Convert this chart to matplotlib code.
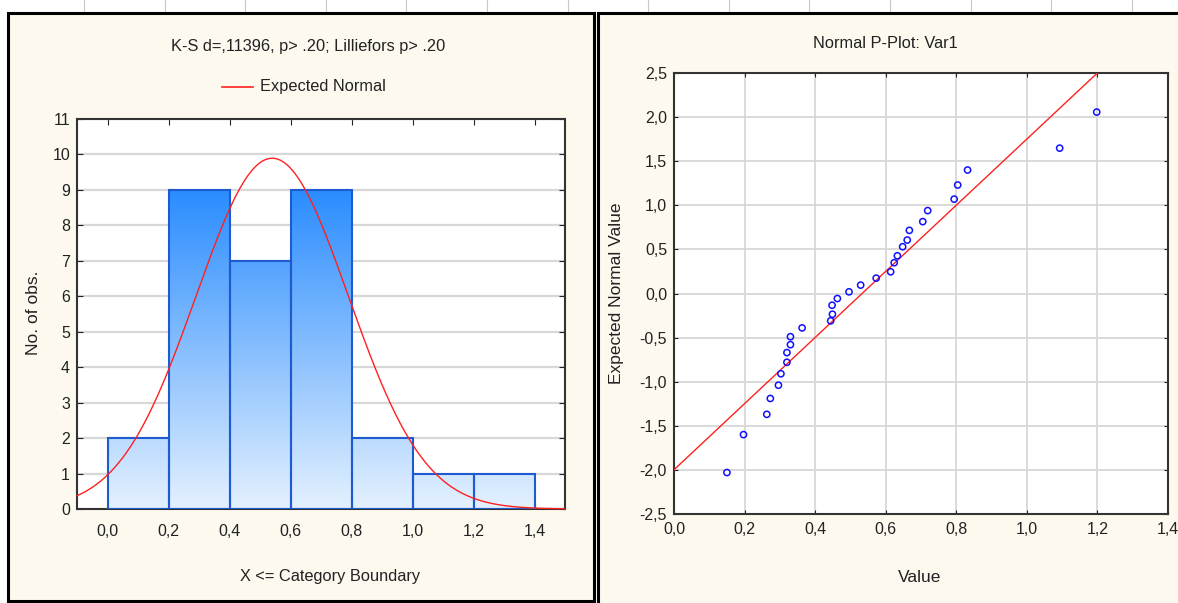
import numpy as np
import matplotlib
matplotlib.use("Agg")
import matplotlib.pyplot as plt
from matplotlib.colors import LinearSegmentedColormap
from matplotlib.patches import Rectangle
from matplotlib.lines import Line2D
from matplotlib.ticker import FuncFormatter

# histogram of Var1
bin_edges = [0.0, 0.2, 0.4, 0.6, 0.8, 1.0, 1.2, 1.4]
counts = [2, 9, 7, 9, 2, 1, 1]
fit_mean = 0.54
fit_sd = 0.25

# normal probability plot: observed value vs expected normal value
values = [0.150, 0.197, 0.263, 0.273, 0.296, 0.303, 0.320, 0.320, 0.330, 0.330,
          0.363, 0.444, 0.449, 0.448, 0.463, 0.496, 0.529, 0.573, 0.614, 0.624,
          0.633, 0.648, 0.661, 0.667, 0.705, 0.719, 0.794, 0.804, 0.832, 1.093,
          1.198]
expected = [-2.03, -1.60, -1.37, -1.19, -1.04, -0.91, -0.78, -0.67, -0.58, -0.49,
            -0.39, -0.31, -0.235, -0.133, -0.057, 0.019, 0.095, 0.174, 0.246, 0.349,
            0.428, 0.53, 0.606, 0.716, 0.815, 0.94, 1.07, 1.23, 1.40, 1.648,
            2.057]
line_mean = 0.533
line_sd = 0.2667

plt.rcParams['font.family'] = ['Liberation Sans', 'DejaVu Sans']
txt = '#222222'
cream = '#fdf9ef'

W, H = 1178, 603
fig = plt.figure(figsize=(W / 100, H / 100), dpi=100, facecolor='white')


def fx(px):
    return px / W


def fy(py):
    return 1 - py / H


comma = FuncFormatter(lambda v, pos: ('%.1f' % v).replace('.', ','))

# panel backgrounds and frames
fig.patches.append(Rectangle((fx(8), fy(601)), fx(594 - 8), fy(13) - fy(601),
                             transform=fig.transFigure, facecolor=cream,
                             edgecolor='black', lw=2.2, zorder=-5))
fig.patches.append(Rectangle((fx(598), fy(640)), fx(640), fy(13) - fy(640),
                             transform=fig.transFigure, facecolor=cream,
                             edgecolor='black', lw=2.2, zorder=-5))
for px in np.arange(84, W, 80.6):
    fig.add_artist(Line2D([fx(px), fx(px)], [fy(0), fy(11)], color='#c8c8c8', lw=0.8))

# ---- left: histogram with expected normal curve ----
ax1 = fig.add_axes([fx(77), fy(509), fx(565 - 77), fy(119) - fy(509)])
ax1.set_facecolor('white')
grad_cmap = LinearSegmentedColormap.from_list('bars', ['#e4f1fe', '#2a8cff'])
grad = np.linspace(0, 1, 256).reshape(-1, 1)
top = max(counts)
bars = ax1.bar(bin_edges[:-1], counts, width=np.diff(bin_edges), align='edge',
               facecolor='none', edgecolor='#1f5bd0', lw=1.5, zorder=3)
for b in bars:
    x0 = b.get_x()
    im = ax1.imshow(grad, extent=[x0, x0 + b.get_width(), 0, top], origin='lower',
                    aspect='auto', cmap=grad_cmap, zorder=2)
    im.set_clip_path(b)

n = sum(counts)
bw = bin_edges[1] - bin_edges[0]
xs = np.linspace(-0.1, 1.5, 400)
ys = n * bw * np.exp(-0.5 * ((xs - fit_mean) / fit_sd) ** 2) / (fit_sd * np.sqrt(2 * np.pi))
ax1.plot(xs, ys, color='#ff2020', lw=1.0, zorder=4, clip_on=False)

ax1.set_xlim(-0.1, 1.5)
ax1.set_ylim(0, 11)
ax1.set_xticks(bin_edges)
ax1.set_yticks(range(12))
ax1.xaxis.set_major_formatter(comma)
ax1.yaxis.grid(True, color='#d8d8d8', lw=1.6)
ax1.set_axisbelow(True)
ax1.tick_params(direction='in', length=4, top=True, right=True, colors='#222222',
                labelsize=11.5)
ax1.tick_params(axis='x', pad=11)
ax1.tick_params(axis='y', pad=5)
for s in ax1.spines.values():
    s.set_color('#333333')
    s.set_linewidth(1.5)

fig.text(fx(308), fy(47), 'K-S d=,11396, p> .20; Lilliefors p> .20', ha='center',
         va='center', fontsize=11.8, color=txt)
fig.add_artist(Line2D([fx(222), fx(253)], [fy(87), fy(87)], color='#ff2020', lw=1.2))
fig.text(fx(260), fy(87), 'Expected Normal', ha='left', va='center', fontsize=11.8,
         color=txt)
fig.text(fx(330), fy(576), 'X <= Category Boundary', ha='center', va='center',
         fontsize=11.8, color=txt)
fig.text(fx(33), fy(313), 'No. of obs.', ha='center', va='center', rotation=90,
         fontsize=12.5, color=txt)

# ---- right: normal probability plot ----
ax2 = fig.add_axes([fx(674), fy(514), fx(1168 - 674), fy(73) - fy(514)])
ax2.set_facecolor('white')
lx = np.array([0.0, 1.4])
ax2.plot(lx, (lx - line_mean) / line_sd, color='#ff2020', lw=1.0, zorder=3)
ax2.scatter(values, expected, s=20, facecolors='none', edgecolors='#1010ff',
            linewidths=1.1, zorder=4, clip_on=False)
ax2.set_xlim(0, 1.4)
ax2.set_ylim(-2.5, 2.5)
ax2.set_xticks(np.arange(0, 1.41, 0.2))
ax2.set_yticks(np.arange(-2.5, 2.51, 0.5))
ax2.xaxis.set_major_formatter(comma)
ax2.yaxis.set_major_formatter(comma)
ax2.grid(True, color='#d8d8d8', lw=1.3)
ax2.set_axisbelow(True)
ax2.tick_params(direction='in', length=3, top=True, right=True, colors='#222222',
                labelsize=11.5)
ax2.tick_params(axis='x', pad=6)
ax2.tick_params(axis='y', pad=5)
for s in ax2.spines.values():
    s.set_color('#333333')
    s.set_linewidth(1.5)

fig.text(fx(885), fy(43), 'Normal P-Plot: Var1', ha='center', va='center',
         fontsize=11.8, color=txt)
fig.text(fx(920), fy(578), 'Value', ha='center', va='center', fontsize=12.5, color=txt)
fig.text(fx(617), fy(293), 'Expected Normal Value', ha='center', va='center',
         rotation=90, fontsize=12.5, color=txt)

fig.savefig('out.png', dpi=100, facecolor='white')
